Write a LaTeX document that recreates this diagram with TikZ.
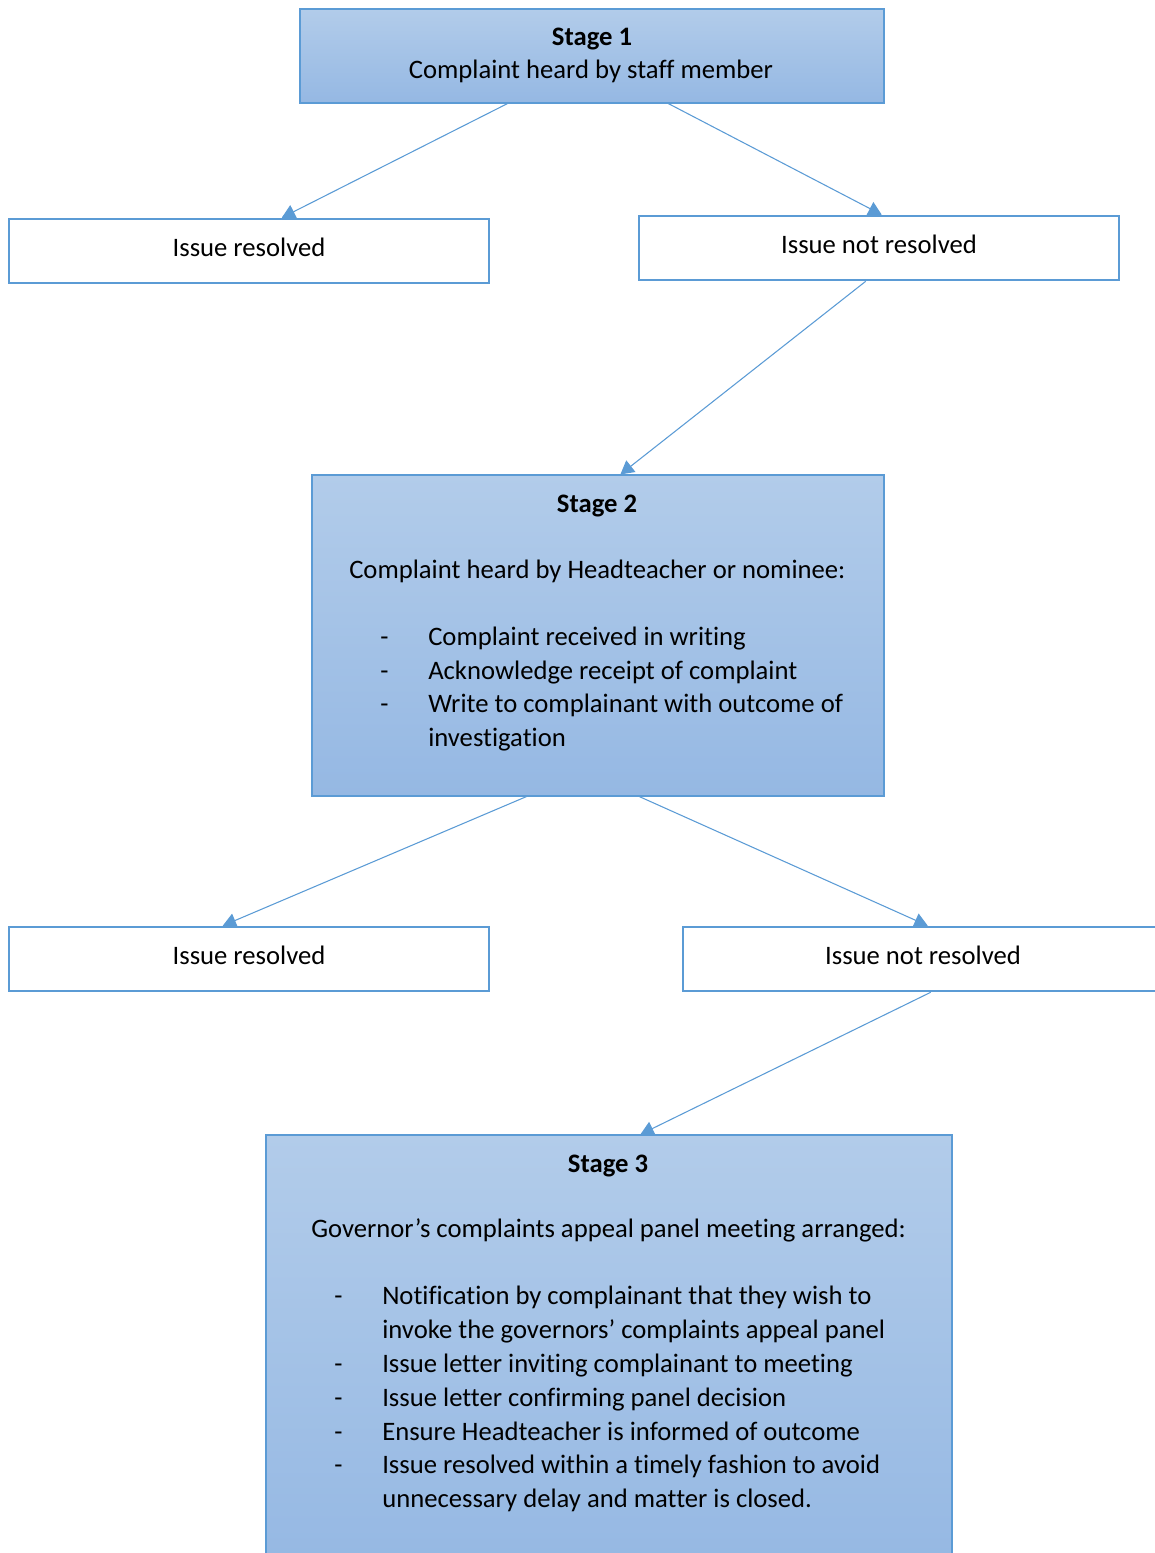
\documentclass[tikz,border=0pt]{standalone}
\usepackage{fontspec}
\setmainfont[Ligatures={NoCommon}]{Carlito}
\usetikzlibrary{arrows.meta,calc}
\definecolor{edgeblue}{HTML}{5B9BD5}
\definecolor{topc}{HTML}{B2CCEA}
\definecolor{botc}{HTML}{95B8E3}
\begin{document}
\begin{tikzpicture}[x=0.75pt,y=-0.75pt,
  stagebox/.style={rectangle,draw=edgeblue,line width=0.9pt,top color=topc,bottom color=botc,inner sep=0pt},
  issuebox/.style={rectangle,draw=edgeblue,line width=1.9pt,fill=white,inner sep=0pt},
  conn/.style={draw=edgeblue,line width=0.8pt,-{Triangle[length=10pt,width=11pt]}},
  txt/.style={inner sep=0pt,font=\fontsize{20}{25}\selectfont},
  ttl/.style={inner sep=0pt,font=\fontsize{20}{25}\selectfont\bfseries},
]
\useasboundingbox (0,0) rectangle (1155,1553);
\clip (0,0) rectangle (1155,1553);

% boxes
\node[stagebox,minimum width=438pt,minimum height=70.5pt] (s1) at (592,56) {};
\node[issuebox,minimum width=360pt,minimum height=48pt] (r1) at (249,251) {};
\node[issuebox,minimum width=360pt,minimum height=48pt] (nr1) at (879,248) {};
\node[stagebox,minimum width=429pt,minimum height=240.75pt] (s2) at (598,635.5) {};
\node[issuebox,minimum width=360pt,minimum height=48pt] (r2) at (249,959) {};
\node[issuebox,minimum width=360pt,minimum height=48pt] (nr2) at (923,959) {};
\node[stagebox,minimum width=514.5pt,minimum height=326.25pt] (s3) at (609,1352.5) {};

% connectors
\draw[conn] ($(s1.south west)+(208,0)$) -- ($(r1.north west)+(274,0)$);
\draw[conn] ($(s1.south west)+(369,0)$) -- ($(nr1.north west)+(244,0)$);
\draw[conn] ($(nr1.south west)+(228,0)$) -- ($(s2.north west)+(309,0)$);
\draw[conn] ($(s2.south west)+(215,0)$) -- ($(r2.north west)+(215,0)$);
\draw[conn] ($(s2.south west)+(328,0)$) -- ($(nr2.north west)+(246,0)$);
\draw[conn] ($(nr2.south west)+(249,0)$) -- ($(s3.north west)+(375,0)$);

% stage 1 text
\node[ttl,anchor=base] (s1a) at (592,45) {Stage 1};
\node[txt,anchor=base] (s1b) at (591,78) {Complaint heard by staff member};

% issue boxes text
\node[txt,anchor=base] (r1t) at (249,256) {Issue resolved};
\node[txt,anchor=base] (nr1t) at (879,253) {Issue not resolved};
\node[txt,anchor=base] (r2t) at (249,964) {Issue resolved};
\node[txt,anchor=base] (nr2t) at (923,964) {Issue not resolved};

% stage 2 text
\node[ttl,anchor=base] (s2a) at (597,512) {Stage 2};
\node[txt,anchor=base west] (s2b) at (349,578) {Complaint heard by Headteacher or nominee:};
\node[txt,anchor=base west] (s2d1) at (380,645) {-};
\node[txt,anchor=base west] (s2l1) at (428,645) {Complaint received in writing};
\node[txt,anchor=base west] (s2d2) at (380,679) {-};
\node[txt,anchor=base west] (s2l2) at (428,679) {Acknowledge receipt of complaint};
\node[txt,anchor=base west] (s2d3) at (380,712) {-};
\node[txt,anchor=base west] (s2l3) at (428,712) {Write to complainant with outcome of};
\node[txt,anchor=base west] (s2l4) at (428,746) {investigation};

% stage 3 text
\node[ttl,anchor=base] (s3a) at (608,1172) {Stage 3};
\node[txt,anchor=base west] (s3b) at (311,1237) {Governor’s complaints appeal panel meeting arranged:};
\node[txt,anchor=base west] (s3d1) at (334,1304) {-};
\node[txt,anchor=base west] (s3l1) at (382,1304) {Notification by complainant that they wish to};
\node[txt,anchor=base west] (s3l2) at (382,1338) {invoke the governors’ complaints appeal panel};
\node[txt,anchor=base west] (s3d3) at (334,1372) {-};
\node[txt,anchor=base west] (s3l3) at (382,1372) {Issue letter inviting complainant to meeting};
\node[txt,anchor=base west] (s3d4) at (334,1406) {-};
\node[txt,anchor=base west] (s3l4) at (382,1406) {Issue letter confirming panel decision};
\node[txt,anchor=base west] (s3d5) at (334,1440) {-};
\node[txt,anchor=base west] (s3l5) at (382,1440) {Ensure Headteacher is informed of outcome};
\node[txt,anchor=base west] (s3d6) at (334,1473) {-};
\node[txt,anchor=base west] (s3l6) at (382,1473) {Issue resolved within a timely fashion to avoid};
\node[txt,anchor=base west] (s3l7) at (382,1507) {unnecessary delay and matter is closed.};
\end{tikzpicture}
\end{document}
